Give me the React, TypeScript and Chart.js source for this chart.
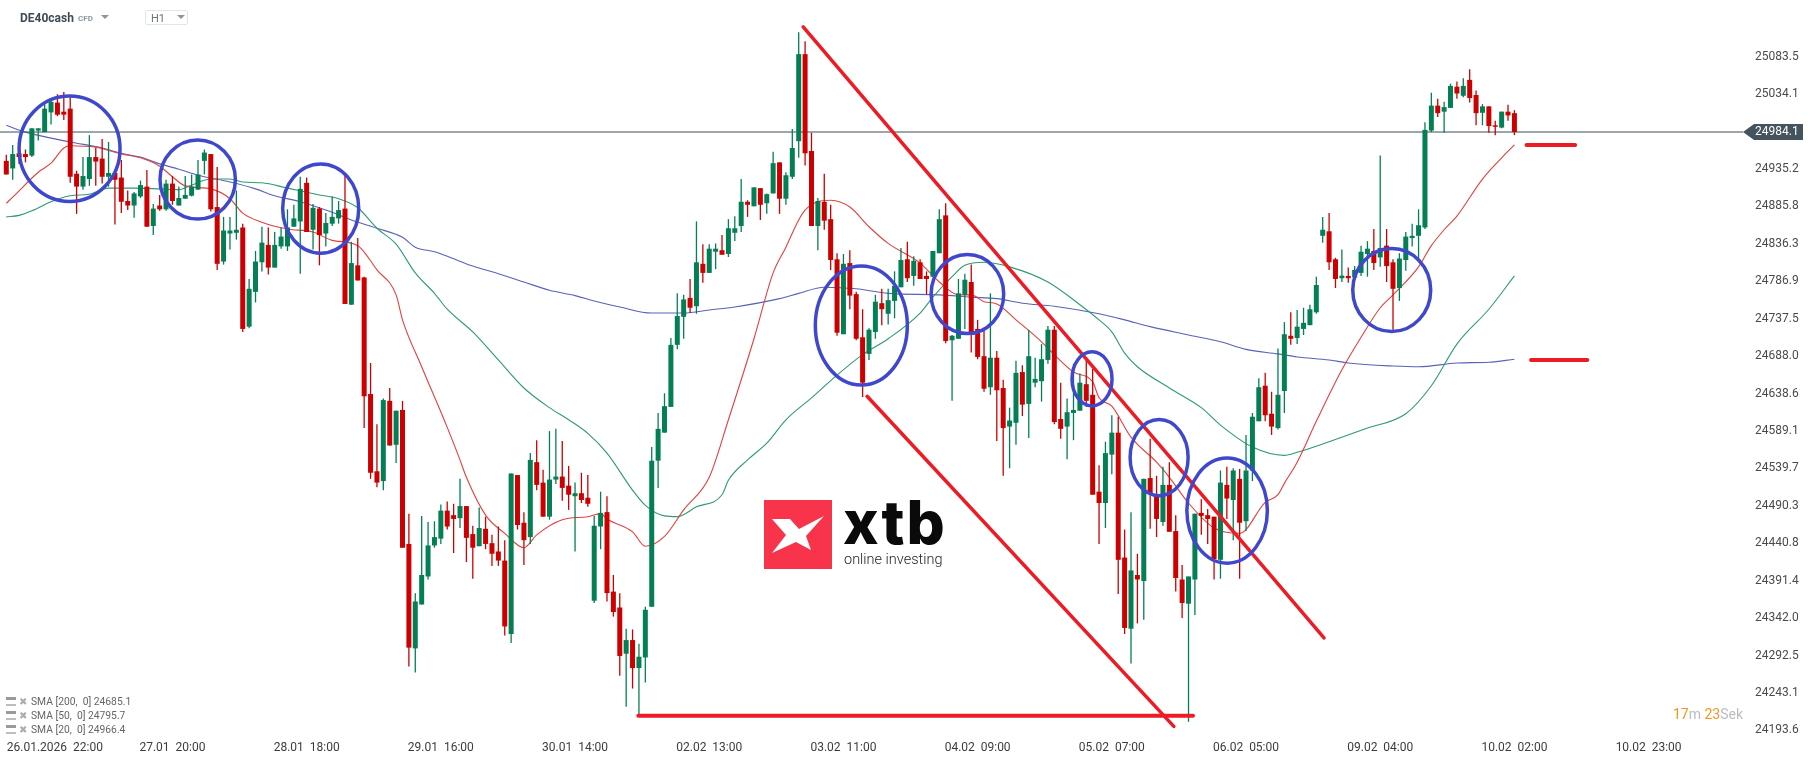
import { useEffect, useRef } from 'react';
import { Chart, registerables } from 'chart.js';

Chart.register(...registerables);

const lastPrice = 24984.1;

const opens = [
  24946, 24936, 24956, 24955, 24953, 24986, 24984, 25010, 25023, 25011,
  25015, 24929, 24912, 24922, 24951, 24949, 24925, 24930, 24924, 24893,
  24887, 24899, 24912, 24860, 24887, 24882, 24916, 24887, 24896, 24900,
  24908, 24946, 24955, 24885, 24813, 24850, 24851, 24858, 24727, 24773,
  24812, 24835, 24805, 24833, 24833, 24859, 24866, 24917, 24855, 24883,
  24850, 24863, 24870, 24883, 24756, 24808, 24792, 24638, 24536, 24523,
  24629, 24571, 24617, 24440, 24302, 24360, 24397, 24438, 24447, 24484,
  24478, 24474, 24490, 24453, 24437, 24460, 24441, 24430, 24418, 24321,
  24531, 24468, 24449, 24548, 24521, 24476, 24525, 24529, 24517, 24503,
  24507, 24501, 24365, 24463, 24482, 24377, 24356, 24295, 24313, 24276,
  24290, 24357, 24550, 24587, 24621, 24703, 24740, 24765, 24754, 24810,
  24798, 24826, 24828, 24823, 24851, 24860, 24892, 24886, 24910, 24890,
  24903, 24944, 24896, 24925, 24972, 25087, 24959, 24860, 24892, 24869,
  24816, 24717, 24811, 24770, 24713, 24691, 24720, 24758, 24744, 24761,
  24779, 24816, 24794, 24812, 24794, 24793, 24824, 24874, 24709, 24711,
  24769, 24786, 24724, 24688, 24647, 24686, 24646, 24595, 24600, 24667,
  24625, 24653, 24655, 24683, 24723, 24605, 24595, 24613, 24616, 24651,
  24637, 24509, 24494, 24558, 24587, 24422, 24328, 24399, 24391, 24527,
  24503, 24469, 24518, 24457, 24393, 24361, 24393, 24481, 24478, 24476,
  24419, 24518, 24498, 24526, 24470, 24537, 24602, 24649, 24612, 24593,
  24642, 24715, 24712, 24724, 24729, 24746, 24847, 24853, 24816, 24791,
  24794, 24792, 24798, 24823, 24827, 24818.5, 24834, 24812, 24778, 24815,
  24844, 24847, 24858, 24986, 25019, 25011, 25016, 25044, 25032, 25053,
  25033, 25009.5, 25018, 24993, 24990, 25011, 25009,
];
const closes = [
  24928, 24955, 24951, 24951, 24989, 24989, 25015, 25024, 25007, 25007,
  24925, 24912, 24926, 24951, 24945, 24925, 24930, 24921, 24892, 24887,
  24903, 24914, 24859, 24883, 24882, 24916, 24893, 24897, 24901, 24912,
  24928, 24957, 24882, 24810, 24854, 24854, 24855, 24724, 24777, 24813,
  24838, 24805, 24835, 24846, 24858, 24870, 24909, 24852, 24884, 24848,
  24864, 24872, 24881, 24757, 24811, 24788, 24635, 24534, 24521, 24630,
  24570, 24616, 24435, 24303, 24364, 24399, 24438, 24449, 24484, 24463,
  24473, 24490, 24448, 24435, 24461, 24440, 24427, 24418, 24331, 24533,
  24465, 24445, 24551, 24518, 24476, 24525, 24529, 24514, 24505, 24507,
  24498, 24493, 24464, 24481, 24375, 24350, 24292, 24313, 24276, 24291,
  24353, 24550, 24592, 24622, 24703, 24741, 24763, 24752, 24812, 24798,
  24830, 24830, 24822, 24857, 24857, 24892, 24888, 24911, 24888, 24902,
  24943, 24896, 24927, 24963, 25087, 24956, 24860, 24893, 24867, 24815,
  24719, 24810, 24768, 24711, 24653, 24723, 24760, 24750, 24762, 24781,
  24815, 24791, 24814, 24790, 24790, 24827, 24869, 24708, 24715, 24771,
  24789, 24717, 24687, 24645, 24686, 24643, 24593, 24603, 24666, 24624,
  24688, 24658, 24684, 24723, 24601, 24592, 24614, 24617, 24653, 24629,
  24505, 24494, 24560, 24587, 24419, 24329, 24405, 24393, 24526, 24507,
  24473, 24518, 24456, 24395, 24362, 24397, 24480, 24477, 24473, 24420,
  24521, 24500, 24537, 24468, 24537, 24608, 24647, 24610, 24595, 24637,
  24717, 24711, 24727, 24732, 24750, 24782, 24855, 24812, 24790, 24794.4,
  24791, 24802, 24826, 24830, 24811, 24831, 24807, 24777, 24817, 24846,
  24847, 24861, 24987, 25019, 25009, 25017, 25045, 25035, 25045, 25029,
  25009, 25018, 24992, 24991, 25011, 25006, 24984.1,
];
const highs = [
  24954, 24967, 24958, 24961, 24989, 24989, 25022, 25029, 25034, 25037,
  25033, 24933, 24951, 24980, 24963, 24975, 24971, 24930, 24947, 24907,
  24905, 24920, 24934, 24889, 24901, 24921, 24926, 24912, 24926, 24928,
  24947, 24961, 24955, 24938, 24872, 24872, 24907, 24863, 24790, 24827,
  24859, 24858, 24852, 24858, 24882, 24888, 24925, 24924, 24889, 24885,
  24877, 24899, 24893, 24926, 24839, 24844, 24793, 24679, 24598, 24632,
  24646, 24616, 24629, 24480, 24375, 24477, 24469, 24470, 24492, 24496,
  24493, 24526, 24490, 24464, 24488, 24476, 24452, 24463, 24445, 24533,
  24531, 24482, 24560, 24577, 24538, 24589, 24592, 24576, 24543, 24521,
  24534, 24531, 24477, 24509, 24503, 24399, 24375, 24328, 24327, 24308,
  24357, 24568, 24613, 24639, 24712, 24771, 24769, 24790, 24866, 24836,
  24836, 24837, 24848, 24869, 24873, 24922, 24894, 24911, 24910, 24903,
  24958, 24944, 24931, 24988, 25116, 25104, 24983, 24897, 24929, 24888,
  24824, 24823, 24828, 24773, 24750, 24725, 24769, 24777, 24777, 24800,
  24831, 24839, 24820, 24816, 24800, 24827, 24882, 24890, 24716, 24790,
  24797, 24809, 24736, 24723, 24771, 24695, 24657, 24620, 24682, 24676,
  24723, 24686, 24704, 24728, 24728, 24653, 24632, 24678, 24665, 24686,
  24671, 24544, 24575, 24610, 24608, 24459, 24482, 24427, 24526, 24579,
  24530, 24542, 24548, 24478, 24412, 24397, 24480, 24499, 24486, 24476,
  24537, 24542, 24540, 24539, 24584, 24613, 24659, 24666, 24641, 24698,
  24733, 24746, 24749, 24752, 24756, 24793, 24872, 24877, 24818, 24829,
  24805, 24807, 24834, 24840, 24856, 24953, 24856, 24816, 24824, 24852,
  24863, 24882, 24997, 25036, 25028, 25024, 25048, 25051, 25055, 25067,
  25039, 25021, 25018, 24999, 25011, 25020, 25013,
];
const lows = [
  24928, 24921, 24942, 24944, 24951, 24973, 24984, 24994, 25005, 25000,
  24917, 24876, 24908, 24913, 24913, 24916, 24912, 24862, 24877, 24881,
  24871, 24897, 24859, 24848, 24880, 24880, 24888, 24887, 24896, 24899,
  24908, 24928, 24879, 24802, 24809, 24829, 24842, 24720, 24725, 24759,
  24800, 24796, 24805, 24830, 24827, 24859, 24797, 24852, 24829, 24808,
  24833, 24860, 24863, 24757, 24756, 24788, 24593, 24526, 24515, 24511,
  24570, 24547, 24435, 24278, 24270, 24360, 24393, 24435, 24440, 24459,
  24428, 24461, 24416, 24394, 24437, 24433, 24411, 24411, 24319, 24309,
  24459, 24412, 24440, 24511, 24476, 24472, 24519, 24497, 24485, 24430,
  24494, 24489, 24362, 24433, 24364, 24344, 24266, 24225, 24249, 24214,
  24257, 24357, 24514, 24587, 24621, 24697, 24711, 24745, 24744, 24785,
  24798, 24803, 24822, 24819, 24840, 24852, 24872, 24886, 24868, 24876,
  24903, 24876, 24888, 24922, 24950, 24940, 24860, 24828, 24855, 24802,
  24715, 24717, 24750, 24709, 24634, 24683, 24711, 24729, 24730, 24738,
  24779, 24786, 24781, 24790, 24770, 24793, 24824, 24705, 24629, 24711,
  24724, 24693, 24684, 24641, 24637, 24576, 24530, 24540, 24571, 24609,
  24580, 24647, 24628, 24678, 24598, 24579, 24552, 24577, 24616, 24621,
  24505, 24440, 24461, 24532, 24374, 24321, 24282, 24335, 24340, 24460,
  24449, 24464, 24456, 24377, 24342, 24205, 24346, 24452, 24440, 24393,
  24394, 24473, 24445, 24394, 24457, 24523, 24602, 24602, 24584, 24591,
  24613, 24703, 24704, 24716, 24729, 24744, 24838, 24802, 24778, 24786,
  24785, 24792, 24794, 24793, 24802, 24806, 24786, 24723, 24761, 24801,
  24833, 24812, 24856, 24984, 25004, 24983, 25016, 25028, 25030, 25023,
  24993, 24993, 24983, 24980, 24989, 24999, 24980,
];

// moving averages at their bends
const sma20Idx = [0, 1, 5, 7, 9, 10, 14, 18, 21, 24, 26, 28, 32, 35, 37, 40, 44, 48, 51, 55, 58, 61, 62, 65, 69, 71, 72, 75, 78, 81, 83, 87, 91, 93, 94, 98, 100, 103, 106, 110, 113, 117, 120, 122, 124, 125, 127, 129, 132, 135, 138, 143, 146, 149, 151, 153, 155, 158, 162, 164, 167, 170, 171, 173, 176, 180, 182, 185, 189, 193, 197, 199, 200, 202, 205, 209, 212, 215, 217, 221, 223, 225, 227, 231, 234, 236];
const sma20 = [24890, 24898, 24931, 24943, 24963, 24966, 24964, 24955, 24950, 24939, 24925, 24913, 24909, 24896, 24877, 24865, 24856, 24852, 24841, 24834, 24802, 24769, 24736, 24674, 24594, 24551, 24528, 24478, 24454, 24435, 24452, 24472, 24476, 24480, 24473, 24456, 24437, 24450, 24485, 24528, 24604, 24711, 24798, 24832, 24868, 24881, 24892, 24894, 24885, 24859, 24837, 24811, 24786, 24769, 24769, 24760, 24757, 24736, 24707, 24690, 24667, 24654, 24633, 24622, 24581, 24548, 24528, 24494, 24461, 24454, 24495, 24505, 24520, 24548, 24602, 24670, 24713, 24752, 24769, 24806, 24834, 24855, 24873, 24922, 24950, 24967];
const sma50Idx = [0, 2, 4, 7, 10, 13, 16, 20, 24, 27, 29, 32, 35, 37, 40, 44, 49, 52, 55, 58, 61, 64, 67, 69, 73, 77, 81, 85, 88, 91, 94, 98, 100, 103, 105, 108, 112, 113, 116, 119, 122, 126, 130, 134, 138, 143, 145, 148, 150, 153, 157, 163, 168, 171, 173, 175, 177, 182, 187, 190, 195, 200, 202, 207, 213, 219, 223, 227, 232, 236];
const sma50 = [24872, 24874, 24880, 24892, 24900, 24902, 24910, 24910, 24909, 24908, 24914, 24922, 24922, 24918, 24917, 24910, 24901, 24896, 24884, 24857, 24836, 24798, 24771, 24750, 24720, 24683, 24646, 24620, 24604, 24586, 24560, 24511, 24491, 24477, 24476, 24489, 24505, 24524, 24551, 24573, 24604, 24633, 24663, 24690, 24711, 24745, 24766, 24793, 24808, 24812, 24806, 24786, 24756, 24736, 24720, 24692, 24674, 24646, 24620, 24597, 24568, 24557, 24561, 24575, 24593, 24612, 24649, 24704, 24750, 24794];
const sma200Idx = [0, 3, 10, 15, 18, 21, 24, 27, 30, 35, 39, 42, 46, 51, 54, 58, 62, 64, 67, 69, 73, 77, 81, 85, 89, 92, 96, 101, 106, 110, 114, 121, 124, 128, 133, 138, 146, 151, 155, 159, 164, 171, 175, 179, 185, 190, 194, 199, 202, 207, 210, 217, 221, 227, 232, 236];
const sma200 = [24993, 24984, 24971, 24963, 24956, 24951, 24942, 24935, 24927, 24918, 24909, 24900, 24892, 24878, 24868, 24857, 24845, 24832, 24826, 24820, 24807, 24797, 24786, 24775, 24768, 24761, 24753, 24745, 24745, 24749, 24753, 24764, 24771, 24779, 24777, 24771, 24769, 24766, 24764, 24758, 24754, 24744, 24736, 24727, 24716, 24707, 24697, 24691, 24687, 24683, 24679, 24675, 24674, 24679, 24680, 24684];

const yTicks = [25083.5, 25034.1, 24984.1, 24935.2, 24885.8, 24836.3, 24786.9, 24737.5, 24688.0, 24638.6, 24589.1, 24539.7, 24490.3, 24440.8, 24391.4, 24342.0, 24292.5, 24243.1, 24193.6];
const xTickIdx = [7.6, 26, 47, 68, 89, 110, 131, 152, 173, 194, 215, 236, 257];
const xTickLabels = ['26.01.2026  22:00', '27.01  20:00', '28.01  18:00', '29.01  16:00', '30.01  14:00', '02.02  13:00', '03.02  11:00', '04.02  09:00', '05.02  07:00', '06.02  05:00', '09.02  04:00', '10.02  02:00', '10.02  23:00'];

// hand-drawn marks on the picture, in candle index / price
const fallingLineIdx = [124.7, 206.2];
const fallingLinePrice = [25123, 24316];
const wedgeLineIdx = [134.7, 182.7];
const wedgeLinePrice = [24635, 24199];
const baseLineIdx = [98.9, 185.7];
const baseLinePrice = [24213, 24213];
const upperDashIdx = [237.9, 245.5];
const upperDashPrice = [24967, 24967];
const lowerDashIdx = [238.6, 247.4];
const lowerDashPrice = [24683, 24683];
const circleIdx = [9.9, 29.95, 49.2, 133.8, 150.4, 169.9, 180.4, 191.04, 216.8];
const circlePrice = [24962, 24921.4, 24883, 24728.5, 24770, 24658, 24554, 24484, 24775.4];
const circleRadiusIdx = [7.9, 5.9, 5.95, 7.2, 5.68, 3.13, 4.54, 6.3, 6.1];
const circleRadiusPrice = [69.6, 52.2, 59, 78.6, 52.2, 35.7, 50.2, 69.4, 54.8];

const legendRows = ['SMA [200,  0] 24685.1', 'SMA [50,  0] 24795.7', 'SMA [20,  0] 24966.4'];

const GREEN = '#047f55';
const RED = '#cc0000';
const MARK_RED = '#ed1c24';

const toPoints = (xs: number[], ys: number[]) => xs.map((x, i) => ({ x, y: ys[i] }));

const smaLine = (xs: number[], ys: number[], color: string) => ({
  type: 'line' as const,
  data: toPoints(xs, ys),
  borderColor: color,
  borderWidth: 1.1,
  pointRadius: 0,
  cubicInterpolationMode: 'monotone' as const,
  order: 3,
});

const markLine = (xs: number[], ys: number[], width: number) => ({
  type: 'line' as const,
  data: toPoints(xs, ys),
  borderColor: MARK_RED,
  borderWidth: width,
  borderCapStyle: 'round' as const,
  pointRadius: 0,
  tension: 0,
  order: 0,
});

const marksPlugin = {
  id: 'marks',
  beforeDraw(chart: Chart) {
    const { ctx, chartArea } = chart;
    const y = chart.scales.y.getPixelForValue(lastPrice);
    // price tag behind the last tick label
    ctx.save();
    ctx.fillStyle = '#45535e';
    ctx.beginPath();
    ctx.moveTo(chartArea.right, y);
    ctx.lineTo(chartArea.right + 11, y - 8);
    ctx.lineTo(chartArea.right + 60, y - 8);
    ctx.lineTo(chartArea.right + 60, y + 8);
    ctx.lineTo(chartArea.right + 11, y + 8);
    ctx.closePath();
    ctx.fill();
    // logo square
    ctx.fillStyle = '#f7344a';
    ctx.fillRect(764, 500, 68, 69);
    ctx.fillStyle = '#fff';
    ctx.beginPath();
    ctx.moveTo(772, 519);
    ctx.lineTo(790, 519);
    ctx.lineTo(799, 529);
    ctx.lineTo(824, 516);
    ctx.lineTo(806, 536);
    ctx.lineTo(811, 550);
    ctx.lineTo(796, 542);
    ctx.lineTo(772, 553);
    ctx.lineTo(786, 535);
    ctx.closePath();
    ctx.fill();
    ctx.restore();
  },
  afterDatasetsDraw(chart: Chart) {
    const { ctx } = chart;
    const { x, y } = chart.scales;
    ctx.save();
    ctx.strokeStyle = '#3f48cc';
    ctx.lineWidth = 3.5;
    circleIdx.forEach((idx, i) => {
      const rx = x.getPixelForValue(idx + circleRadiusIdx[i]) - x.getPixelForValue(idx);
      const ry = y.getPixelForValue(circlePrice[i] - circleRadiusPrice[i]) - y.getPixelForValue(circlePrice[i]);
      ctx.beginPath();
      ctx.ellipse(x.getPixelForValue(idx), y.getPixelForValue(circlePrice[i]), rx, ry, 0, 0, Math.PI * 2);
      ctx.stroke();
    });
    ctx.restore();
  },
};

const abs = (left: number, top: number) => ({ position: 'absolute' as const, left, top, whiteSpace: 'pre' as const });

export default function App() {
  const canvasRef = useRef<HTMLCanvasElement>(null);

  useEffect(() => {
    if (!canvasRef.current) return;

    const candleColors = closes.map((c, i) => (c >= opens[i] ? GREEN : RED));

    const chart = new Chart(canvasRef.current, {
      type: 'bar',
      data: {
        datasets: [
          {
            data: opens.map((o, i) => ({ x: i, y: [o, closes[i]] })),
            backgroundColor: candleColors,
            barThickness: 5,
            grouped: false,
            borderWidth: 0,
            inflateAmount: 0,
            order: 1,
          },
          {
            data: lows.map((l, i) => ({ x: i, y: [l, highs[i]] })),
            backgroundColor: candleColors,
            barThickness: 1.3,
            grouped: false,
            borderWidth: 0,
            inflateAmount: 0,
            order: 2,
          },
          smaLine(sma20Idx, sma20, '#e2403f'),
          smaLine(sma50Idx, sma50, '#2f9a74'),
          smaLine(sma200Idx, sma200, '#5a62b8'),
          {
            type: 'line',
            data: [{ x: -1, y: lastPrice }, { x: 272, y: lastPrice }],
            borderColor: '#3d4b57',
            borderWidth: 1,
            pointRadius: 0,
            order: 2.5,
          },
          markLine(fallingLineIdx, fallingLinePrice, 3.5),
          markLine(wedgeLineIdx, wedgeLinePrice, 3.5),
          markLine(baseLineIdx, baseLinePrice, 4),
          markLine(upperDashIdx, upperDashPrice, 4),
          markLine(lowerDashIdx, lowerDashPrice, 4),
        ] as any,
      },
      options: {
        responsive: false,
        animation: false,
        events: [],
        layout: { padding: 0 },
        plugins: { legend: { display: false }, tooltip: { enabled: false } },
        scales: {
          x: {
            type: 'linear',
            offset: false,
            min: -0.986,
            max: 271.77,
            grid: { display: false, offset: false, drawTicks: false },
            border: { display: false },
            afterBuildTicks: (scale: any) => {
              scale.ticks = xTickIdx.map((value) => ({ value }));
            },
            afterFit: (scale: any) => {
              scale.height = 26;
              scale.paddingLeft = 0;
              scale.paddingRight = 0;
            },
            ticks: {
              autoSkip: false,
              maxRotation: 0,
              padding: 6,
              color: '#3c3c3c',
              font: { family: 'Roboto', size: 12 },
              callback: (value: any) => xTickLabels[xTickIdx.indexOf(Number(value))] ?? '',
            },
          },
          y: {
            position: 'right',
            min: 24187.6,
            max: 25158.5,
            grid: { display: false, drawTicks: false },
            border: { display: false },
            afterBuildTicks: (scale: any) => {
              scale.ticks = yTicks.map((value) => ({ value }));
            },
            afterFit: (scale: any) => {
              scale.width = 72;
              scale.paddingTop = 0;
              scale.paddingBottom = 0;
            },
            ticks: {
              autoSkip: false,
              padding: 12,
              color: (c: any) => (c.tick?.value === lastPrice ? '#ffffff' : '#4a4a4a'),
              font: { family: 'Roboto', size: 12 },
              callback: (value: any) => Number(value).toFixed(1),
            },
          },
        },
      } as any,
      plugins: [marksPlugin],
    });

    return () => chart.destroy();
  }, []);

  return (
    <div style={{ position: 'fixed', left: 0, top: 0, width: 1815, height: 761, background: '#fff', overflow: 'hidden', fontFamily: 'Roboto' }}>
      <canvas ref={canvasRef} width={1815} height={761} style={{ position: 'absolute', left: 0, top: 0 }} />

      <div style={{ ...abs(20, 11), fontSize: 12, fontWeight: 700, color: '#3d4b57' }}>DE40cash</div>
      <div style={{ ...abs(78, 14), fontSize: 8, fontWeight: 700, color: '#8d969e' }}>CFD</div>
      <div style={{ ...abs(101, 15), width: 0, height: 0, borderLeft: '4px solid transparent', borderRight: '4px solid transparent', borderTop: '4px solid #8d969e' }} />
      <div style={{ ...abs(145, 10), width: 43, height: 15, border: '1px solid #e3e6e8', borderRadius: 2, boxSizing: 'border-box' }} />
      <div style={{ ...abs(151, 12), fontSize: 11, color: '#6b7680' }}>H1</div>
      <div style={{ ...abs(177, 15), width: 0, height: 0, borderLeft: '4px solid transparent', borderRight: '4px solid transparent', borderTop: '4px solid #8d969e' }} />

      {legendRows.map((row, i) => (
        <div key={row}>
          <div style={{ ...abs(6, 697 + i * 14), width: 10, height: 4, borderTop: '3px solid #9a9a9a', borderBottom: '2px solid #bdbdbd' }} />
          <div style={{ ...abs(19, 695 + i * 14), fontFamily: 'DejaVu Sans', fontSize: 10, lineHeight: '13px', color: '#adadad' }}>✖</div>
          <div style={{ ...abs(31, 695 + i * 14), fontSize: 10.3, lineHeight: '13px', color: '#666' }}>{row}</div>
        </div>
      ))}

      <div style={{ ...abs(843, 487), fontFamily: 'Inter', fontSize: 60, fontWeight: 800, letterSpacing: 2, lineHeight: '70px', color: '#0a0a0a' }}>xtb</div>
      <div style={{ ...abs(844, 551), fontSize: 14.5, fontWeight: 300, lineHeight: '17px', color: '#222' }}>online investing</div>

      <div style={{ ...abs(1673, 706), fontSize: 14, lineHeight: '16px', color: '#b9bdc2' }}>
        <span style={{ color: '#f7931e' }}>17</span>m <span style={{ color: '#f7931e' }}>23</span>Sek
      </div>
    </div>
  );
}
